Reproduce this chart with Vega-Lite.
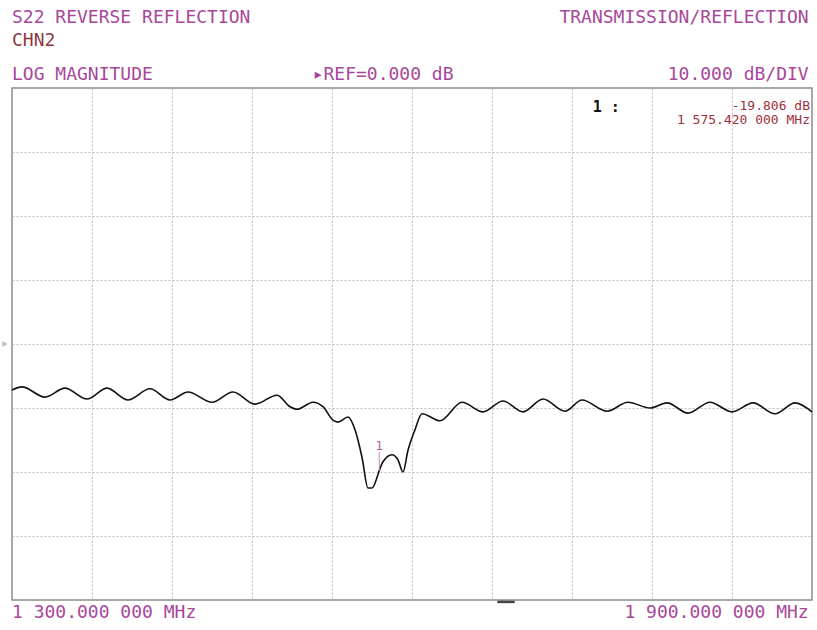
{
  "$schema": "https://vega.github.io/schema/vega-lite/v6.json",
  "width": 800,
  "height": 512,
  "autosize": "none",
  "padding": {"left": 12, "top": 88, "right": 5, "bottom": 30},
  "background": "#ffffff",
  "config": {
    "view": {"stroke": "#8c8c8c", "strokeWidth": 1.5},
    "text": {"font": "DejaVu Sans Mono", "baseline": "middle"}
  },
  "datasets": {
    "trace": [
      {"freq": 1300, "db": -7.2},
      {"freq": 1307.5, "db": -6.7},
      {"freq": 1324.75, "db": -8.3},
      {"freq": 1339.75, "db": -6.9},
      {"freq": 1356.25, "db": -8.6},
      {"freq": 1371.25, "db": -6.9},
      {"freq": 1387, "db": -8.75},
      {"freq": 1403.5, "db": -7.0},
      {"freq": 1418.5, "db": -8.75},
      {"freq": 1432, "db": -7.5},
      {"freq": 1450, "db": -9.1},
      {"freq": 1465.75, "db": -7.5},
      {"freq": 1482.25, "db": -9.4},
      {"freq": 1498.75, "db": -8.0},
      {"freq": 1508.5, "db": -9.8},
      {"freq": 1513.75, "db": -10.2},
      {"freq": 1525.75, "db": -9.1},
      {"freq": 1533.25, "db": -9.8},
      {"freq": 1540.75, "db": -11.9},
      {"freq": 1544.5, "db": -12.2},
      {"freq": 1552, "db": -11.4},
      {"freq": 1557.25, "db": -13.4},
      {"freq": 1562.5, "db": -17.7},
      {"freq": 1567, "db": -22.5},
      {"freq": 1570, "db": -22.5},
      {"freq": 1574.5, "db": -20.4},
      {"freq": 1575.42, "db": -19.806},
      {"freq": 1578.25, "db": -18.4},
      {"freq": 1585, "db": -17.3},
      {"freq": 1589.5, "db": -18.1},
      {"freq": 1593.25, "db": -20.0},
      {"freq": 1597, "db": -16.6},
      {"freq": 1602.25, "db": -13.4},
      {"freq": 1607.5, "db": -10.9},
      {"freq": 1621, "db": -12.0},
      {"freq": 1637.5, "db": -9.1},
      {"freq": 1653.25, "db": -10.6},
      {"freq": 1668.25, "db": -8.9},
      {"freq": 1683.25, "db": -10.6},
      {"freq": 1698.25, "db": -8.6},
      {"freq": 1714.75, "db": -10.5},
      {"freq": 1727.5, "db": -8.75},
      {"freq": 1746.25, "db": -10.5},
      {"freq": 1762, "db": -9.1},
      {"freq": 1778.5, "db": -10.0},
      {"freq": 1791.25, "db": -9.2},
      {"freq": 1807, "db": -10.8},
      {"freq": 1823.5, "db": -9.1},
      {"freq": 1840, "db": -10.6},
      {"freq": 1855.75, "db": -9.2},
      {"freq": 1872.25, "db": -10.9},
      {"freq": 1887.25, "db": -9.2},
      {"freq": 1900, "db": -10.6}
    ],
    "marker": [
      {"label": "1", "freq": 1575.42, "db": -19.806}
    ],
    "one": [{}]
  },
  "layer": [
    {
      "data": {"name": "trace"},
      "mark": {"type": "line", "color": "#111111", "strokeWidth": 1.6, "interpolate": "monotone"},
      "encoding": {
        "x": {
          "field": "freq", "type": "quantitative",
          "scale": {"domain": [1300, 1900], "nice": false, "zero": false},
          "axis": {
            "values": [1360, 1420, 1480, 1540, 1600, 1660, 1720, 1780, 1840],
            "grid": true, "gridColor": "#c0c0c0", "gridDash": [2, 2], "gridWidth": 1.2,
            "labels": false, "ticks": false, "domain": false, "title": null
          }
        },
        "y": {
          "field": "db", "type": "quantitative",
          "scale": {"domain": [-40, 40], "nice": false, "zero": false},
          "axis": {
            "values": [-30, -20, -10, 0, 10, 20, 30],
            "grid": true, "gridColor": "#c0c0c0", "gridDash": [2, 2], "gridWidth": 1.2,
            "labels": false, "ticks": false, "domain": false, "title": null
          }
        }
      }
    },
    {
      "data": {"name": "marker"},
      "mark": {"type": "rule", "color": "#c58ac0", "strokeWidth": 1},
      "encoding": {
        "x": {"field": "freq", "type": "quantitative"},
        "y": {"field": "db", "type": "quantitative"},
        "y2": {"datum": -16.9}
      }
    },
    {
      "data": {"name": "marker"},
      "mark": {"type": "text", "color": "#b06aa8", "fontSize": 13, "dy": -25},
      "encoding": {
        "x": {"field": "freq", "type": "quantitative"},
        "y": {"field": "db", "type": "quantitative"},
        "text": {"field": "label"}
      }
    },
    {
      "data": {"name": "one"},
      "mark": {"type": "point", "shape": "triangle-right", "filled": true, "color": "#a0a0a0", "size": 35, "xOffset": -7},
      "encoding": {"x": {"datum": 1300}, "y": {"datum": 0}}
    },
    {
      "data": {"name": "one"},
      "mark": {"type": "rule", "color": "#444444", "strokeWidth": 2.5},
      "encoding": {"x": {"datum": 1664}, "x2": {"datum": 1677}, "y": {"datum": -40.3}}
    },
    {
      "data": {"name": "one"},
      "mark": {"type": "text", "align": "left", "color": "#a8479a", "fontSize": 18},
      "encoding": {"x": {"datum": 1300}, "y": {"datum": 50.9}, "text": {"value": "S22 REVERSE REFLECTION"}}
    },
    {
      "data": {"name": "one"},
      "mark": {"type": "text", "align": "right", "color": "#a8479a", "fontSize": 18},
      "encoding": {"x": {"datum": 1897.5}, "y": {"datum": 50.9}, "text": {"value": "TRANSMISSION/REFLECTION"}}
    },
    {
      "data": {"name": "one"},
      "mark": {"type": "text", "align": "left", "color": "#8a3a3f", "fontSize": 18},
      "encoding": {"x": {"datum": 1300}, "y": {"datum": 47.4}, "text": {"value": "CHN2"}}
    },
    {
      "data": {"name": "one"},
      "mark": {"type": "text", "align": "left", "color": "#a8479a", "fontSize": 18},
      "encoding": {"x": {"datum": 1300}, "y": {"datum": 42.0}, "text": {"value": "LOG MAGNITUDE"}}
    },
    {
      "data": {"name": "one"},
      "mark": {"type": "text", "align": "left", "color": "#a8479a", "fontSize": 18},
      "encoding": {"x": {"datum": 1525.5}, "y": {"datum": 42.0}, "text": {"value": "▸REF=0.000 dB"}}
    },
    {
      "data": {"name": "one"},
      "mark": {"type": "text", "align": "right", "color": "#a8479a", "fontSize": 18},
      "encoding": {"x": {"datum": 1897.5}, "y": {"datum": 42.0}, "text": {"value": "10.000 dB/DIV"}}
    },
    {
      "data": {"name": "one"},
      "mark": {"type": "text", "align": "left", "color": "#111111", "fontSize": 15, "fontWeight": "bold"},
      "encoding": {"x": {"datum": 1735.5}, "y": {"datum": 37.0}, "text": {"value": "1 :"}}
    },
    {
      "data": {"name": "one"},
      "mark": {"type": "text", "align": "right", "color": "#a0303a", "fontSize": 13},
      "encoding": {"x": {"datum": 1898.5}, "y": {"datum": 37.2}, "text": {"value": "-19.806 dB"}}
    },
    {
      "data": {"name": "one"},
      "mark": {"type": "text", "align": "right", "color": "#a0303a", "fontSize": 13},
      "encoding": {"x": {"datum": 1898.5}, "y": {"datum": 35.0}, "text": {"value": "1 575.420 000 MHz"}}
    },
    {
      "data": {"name": "one"},
      "mark": {"type": "text", "align": "left", "color": "#a8479a", "fontSize": 18},
      "encoding": {"x": {"datum": 1300}, "y": {"datum": -42.0}, "text": {"value": "1 300.000 000 MHz"}}
    },
    {
      "data": {"name": "one"},
      "mark": {"type": "text", "align": "right", "color": "#a8479a", "fontSize": 18},
      "encoding": {"x": {"datum": 1897.5}, "y": {"datum": -42.0}, "text": {"value": "1 900.000 000 MHz"}}
    }
  ]
}
